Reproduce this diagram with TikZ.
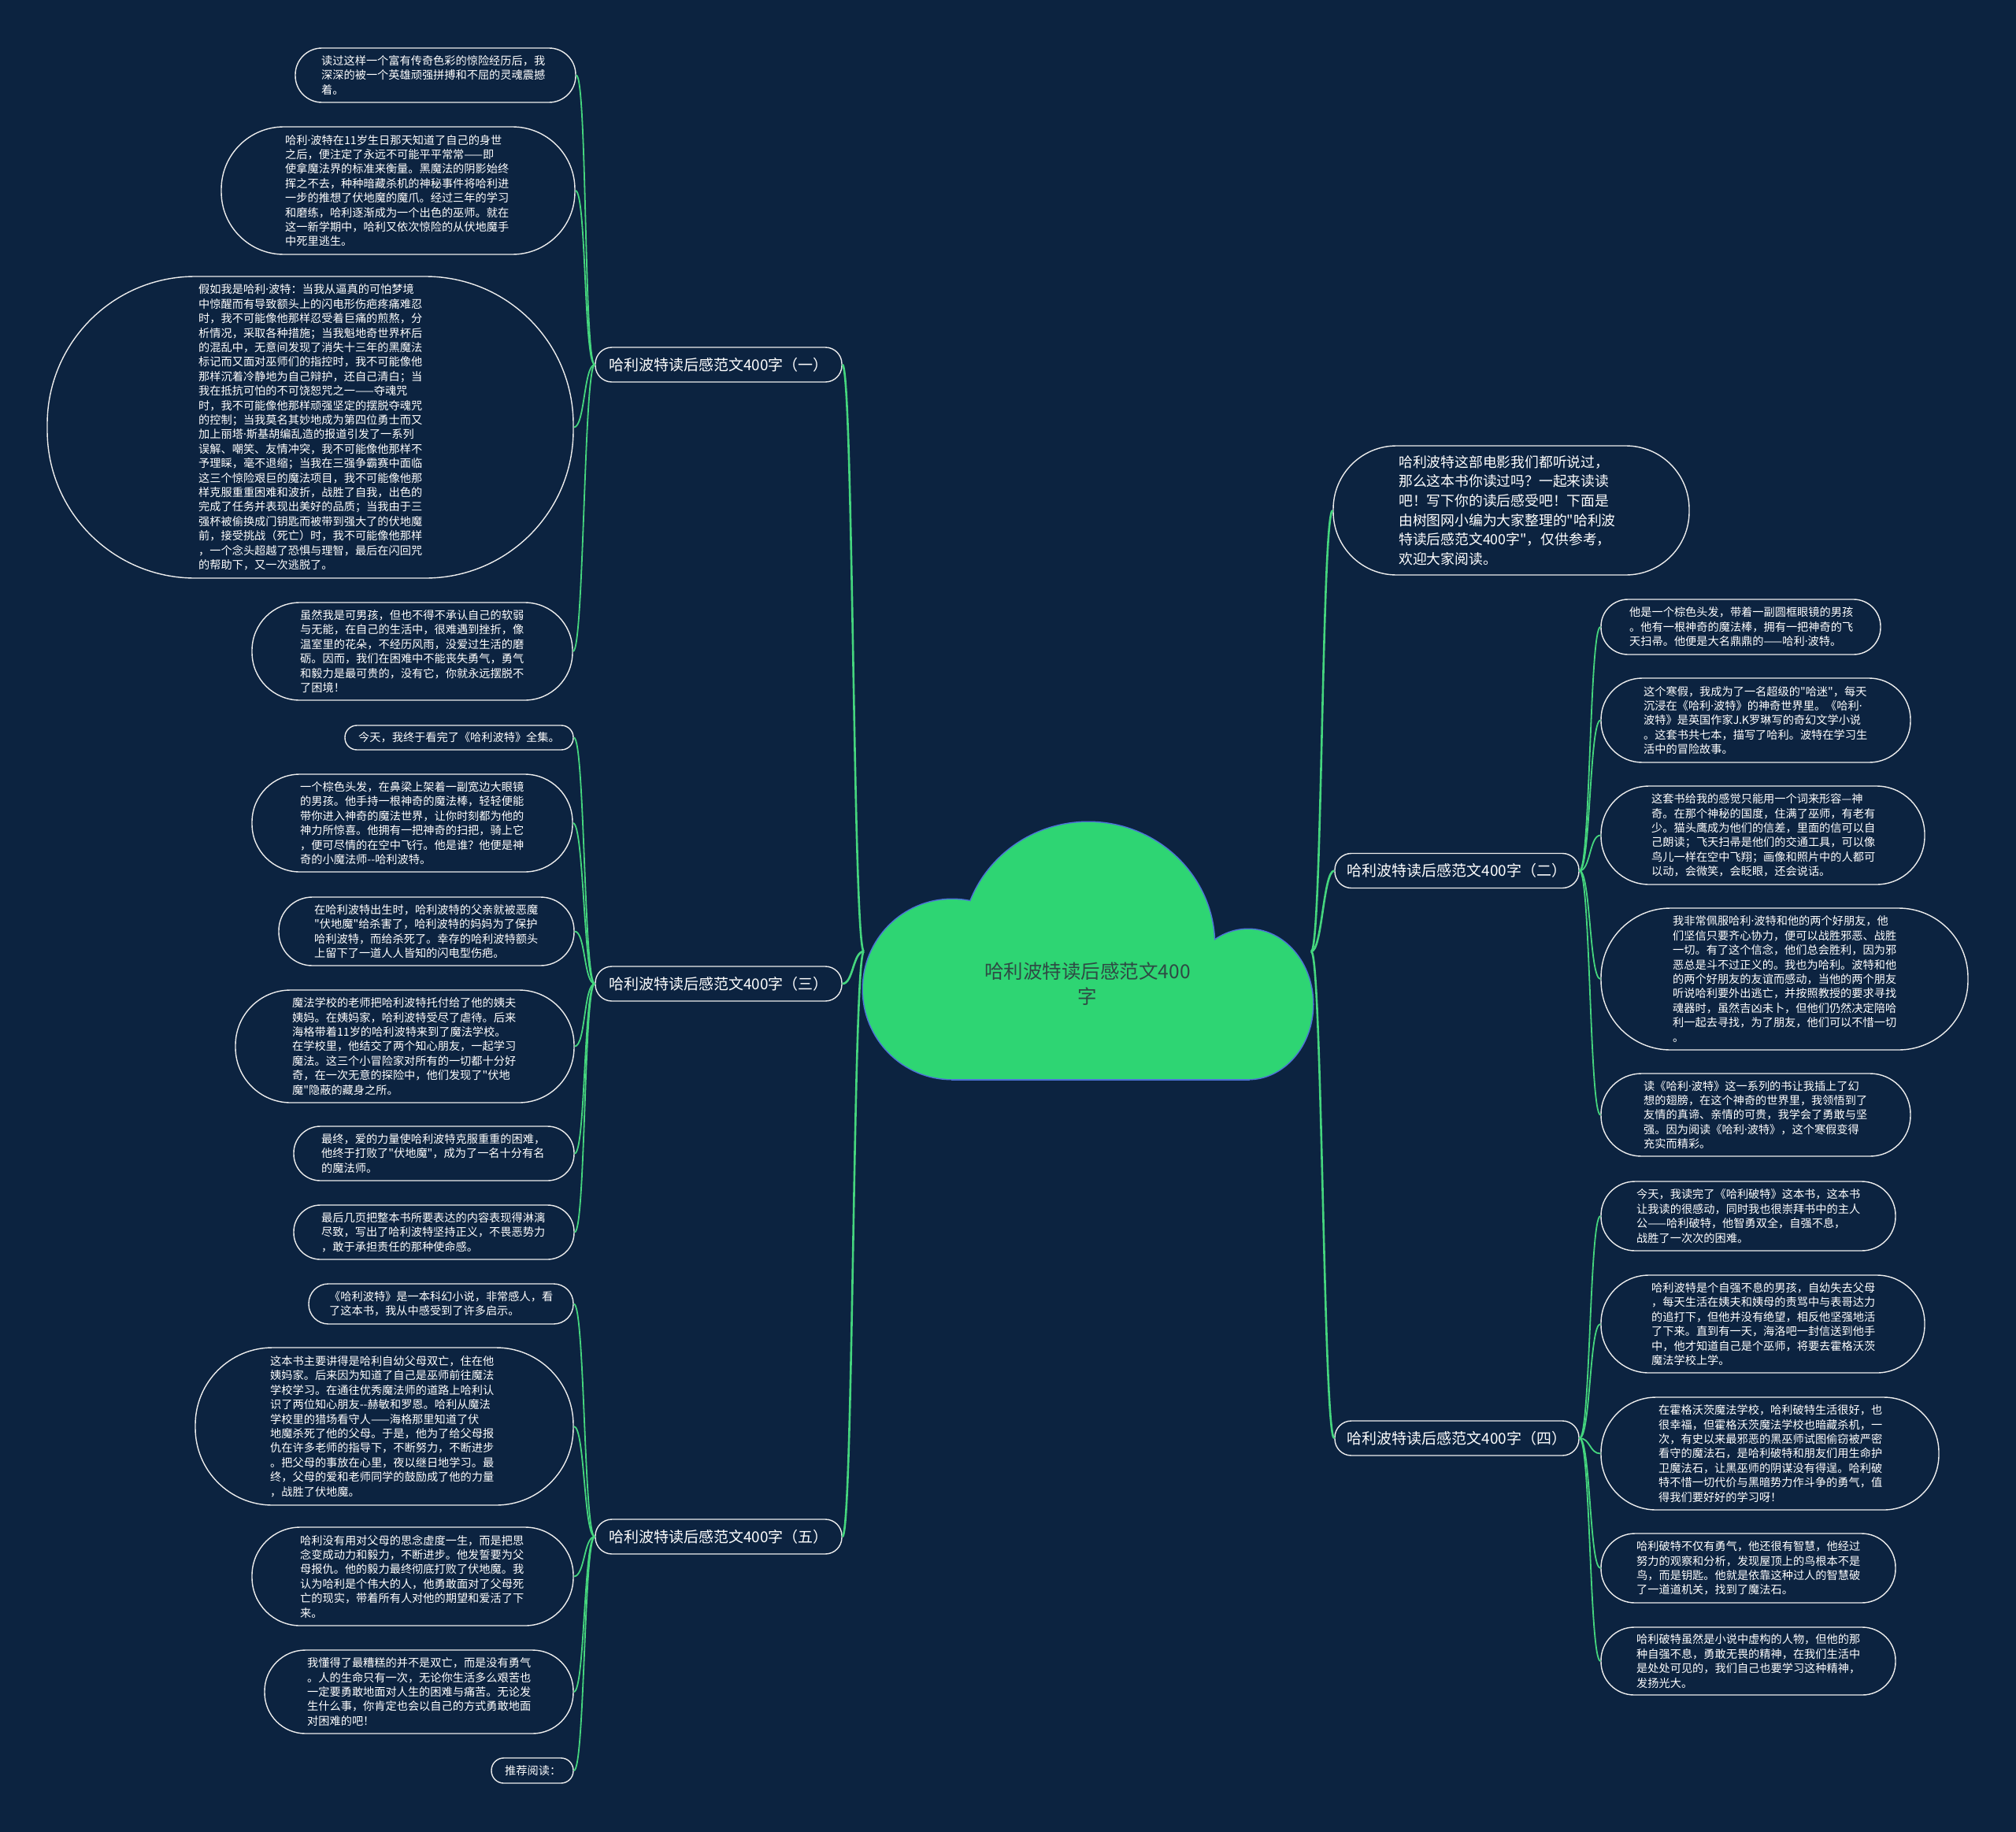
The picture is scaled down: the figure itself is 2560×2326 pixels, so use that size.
\documentclass[tikz,border=0pt]{standalone}
\usepackage{fontspec}
\newfontfamily\cjk{Noto Sans CJK SC}[Ligatures=TeXOff]
\newfontfamily\latinf{Noto Sans}[Ligatures=TeXOff]
\newcommand\md{{\latinf ·}}
\definecolor{bg}{HTML}{0C2340}
\definecolor{edge}{HTML}{45D67E}
\definecolor{cloudfill}{HTML}{2ED573}
\definecolor{cloudedge}{HTML}{4C73D6}
\definecolor{cloudtext}{HTML}{2E4A44}
\definecolor{leafedge}{HTML}{EDEDED}
\tikzset{
  leafbox/.style={draw=leafedge, line width=1.4pt, fill=bg, inner sep=0pt},
  leaftext/.style={font=\cjk\fontsize{14.2}{18.4}\selectfont, text=white, align=left, inner sep=0pt},
  introtext/.style={font=\cjk\fontsize{17.8}{24.6}\selectfont, text=white, align=left, inner sep=0pt},
  branchbox/.style={draw=leafedge, line width=1.4pt, fill=bg, rounded corners=21pt, minimum width=313pt, minimum height=44pt, font=\cjk\fontsize{19}{22}\selectfont, text=white, inner sep=0pt},
  mainline/.style={draw=edge, line width=2.6pt},
  leafline/.style={draw=edge, line width=1.8pt},
}
\newcommand\leafnode[8][leaftext]{%
  \pgfmathsetmacro\lfW{#5-#3}%
  \pgfmathsetmacro\lfH{#6-#4}%
  \pgfmathsetmacro\lfR{min(0.49*\lfH,0.49*\lfW)}%
  \pgfmathsetmacro\lfX{(#3+#5)/2}%
  \pgfmathsetmacro\lfY{(#4+#6)/2}%
  \node[leafbox, minimum width=\lfW pt, minimum height=\lfH pt, rounded corners=\lfR pt] (#2) at (\lfX,\lfY) {};
  \node[#1, anchor=west] (#2t) at (#7,\lfY) {#8};
}
\begin{document}
\begin{tikzpicture}[x=1pt,y=-1pt]
\useasboundingbox (0,0) rectangle (2560,2326);
\fill[bg] (0,0) rectangle (2560,2326);

% branch labels
\node[branchbox] (B1) at (912.5,463) {哈利波特读后感范文400字（一）};
\node[branchbox] (B3) at (912.5,1249) {哈利波特读后感范文400字（三）};
\node[branchbox] (B5) at (912.5,1951) {哈利波特读后感范文400字（五）};
\node[branchbox, minimum width=310pt] (B2) at (1850,1105.5) {哈利波特读后感范文400字（二）};
\node[branchbox, minimum width=310pt] (B4) at (1850,1826) {哈利波特读后感范文400字（四）};

% left leaves
\leafnode{L1a}{375}{61}{731}{130}{408}{读过这样一个富有传奇色彩的惊险经历后，我\\深深的被一个英雄顽强拼搏和不屈的灵魂震撼\\着。}
\leafnode{L1b}{281}{161}{730}{323}{362}{哈利\md 波特在11岁生日那天知道了自己的身世\\之后，便注定了永远不可能平平常常——即\\使拿魔法界的标准来衡量。黑魔法的阴影始终\\挥之不去，种种暗藏杀机的神秘事件将哈利进\\一步的推想了伏地魔的魔爪。经过三年的学习\\和磨练，哈利逐渐成为一个出色的巫师。就在\\这一新学期中，哈利又依次惊险的从伏地魔手\\中死里逃生。}
\leafnode{L1c}{60}{351}{728}{734}{252}{假如我是哈利\md 波特：当我从逼真的可怕梦境\\中惊醒而有导致额头上的闪电形伤疤疼痛难忍\\时，我不可能像他那样忍受着巨痛的煎熬，分\\析情况，采取各种措施；当我魁地奇世界杯后\\的混乱中，无意间发现了消失十三年的黑魔法\\标记而又面对巫师们的指控时，我不可能像他\\那样沉着冷静地为自己辩护，还自己清白；当\\我在抵抗可怕的不可饶恕咒之一——夺魂咒\\时，我不可能像他那样顽强坚定的摆脱夺魂咒\\的控制；当我莫名其妙地成为第四位勇士而又\\加上丽塔\md 斯基胡编乱造的报道引发了一系列\\误解、嘲笑、友情冲突，我不可能像他那样不\\予理睬，毫不退缩；当我在三强争霸赛中面临\\这三个惊险艰巨的魔法项目，我不可能像他那\\样克服重重困难和波折，战胜了自我，出色的\\完成了任务并表现出美好的品质；当我由于三\\强杯被偷换成门钥匙而被带到强大了的伏地魔\\前，接受挑战（死亡）时，我不可能像他那样\\，一个念头超越了恐惧与理智，最后在闪回咒\\的帮助下，又一次逃脱了。}
\leafnode{L1d}{320}{765}{727}{889}{381}{虽然我是可男孩，但也不得不承认自己的软弱\\与无能，在自己的生活中，很难遇到挫折，像\\温室里的花朵，不经历风雨，没爱过生活的磨\\砺。因而，我们在困难中不能丧失勇气，勇气\\和毅力是最可贵的，没有它，你就永远摆脱不\\了困境！}
\leafnode{L3a}{438}{921}{728}{952}{455}{今天，我终于看完了《哈利波特》全集。}
\leafnode{L3b}{320}{983}{727}{1107}{381}{一个棕色头发，在鼻梁上架着一副宽边大眼镜\\的男孩。他手持一根神奇的魔法棒，轻轻便能\\带你进入神奇的魔法世界，让你时刻都为他的\\神力所惊喜。他拥有一把神奇的扫把，骑上它\\，便可尽情的在空中飞行。他是谁？他便是神\\奇的小魔法师--哈利波特。}
\leafnode{L3c}{354}{1139}{729}{1226}{399}{在哈利波特出生时，哈利波特的父亲就被恶魔\\"伏地魔"给杀害了，哈利波特的妈妈为了保护\\哈利波特，而给杀死了。幸存的哈利波特额头\\上留下了一道人人皆知的闪电型伤疤。}
\leafnode{L3d}{299}{1257}{729}{1400}{371}{魔法学校的老师把哈利波特托付给了他的姨夫\\姨妈。在姨妈家，哈利波特受尽了虐待。后来\\海格带着11岁的哈利波特来到了魔法学校。\\在学校里，他结交了两个知心朋友，一起学习\\魔法。这三个小冒险家对所有的一切都十分好\\奇，在一次无意的探险中，他们发现了"伏地\\魔"隐蔽的藏身之所。}
\leafnode{L3e}{373}{1430}{729}{1499}{408}{最终，爱的力量使哈利波特克服重重的困难，\\他终于打败了"伏地魔"，成为了一名十分有名\\的魔法师。}
\leafnode{L3f}{373}{1530}{729}{1599}{408}{最后几页把整本书所要表达的内容表现得淋漓\\尽致，写出了哈利波特坚持正义，不畏恶势力\\，敢于承担责任的那种使命感。}
\leafnode{L5a}{392}{1630}{728}{1681}{418}{《哈利波特》是一本科幻小说，非常感人，看\\了这本书，我从中感受到了许多启示。}
\leafnode{L5b}{248}{1711}{728}{1911}{343}{这本书主要讲得是哈利自幼父母双亡，住在他\\姨妈家。后来因为知道了自己是巫师前往魔法\\学校学习。在通往优秀魔法师的道路上哈利认\\识了两位知心朋友--赫敏和罗恩。哈利从魔法\\学校里的猎场看守人——海格那里知道了伏\\地魔杀死了他的父母。于是，他为了给父母报\\仇在许多老师的指导下，不断努力，不断进步\\。把父母的事放在心里，夜以继日地学习。最\\终，父母的爱和老师同学的鼓励成了他的力量\\，战胜了伏地魔。}
\leafnode{L5c}{320}{1939}{728}{2064}{381}{哈利没有用对父母的思念虚度一生，而是把思\\念变成动力和毅力，不断进步。他发誓要为父\\母报仇。他的毅力最终彻底打败了伏地魔。我\\认为哈利是个伟大的人，他勇敢面对了父母死\\亡的现实，带着所有人对他的期望和爱活了下\\来。}
\leafnode{L5d}{336}{2095}{728}{2201}{390}{我懂得了最糟糕的并不是双亡，而是没有勇气\\。人的生命只有一次，无论你生活多么艰苦也\\一定要勇敢地面对人生的困难与痛苦。无论发\\生什么事，你肯定也会以自己的方式勇敢地面\\对困难的吧！}
\leafnode{L5e}{624}{2232}{728}{2264}{641}{推荐阅读：}

% right leaves
\leafnode[introtext]{intro}{1693}{566}{2145}{730}{1776}{哈利波特这部电影我们都听说过，\\那么这本书你读过吗？一起来读读\\吧！写下你的读后感受吧！下面是\\由树图网小编为大家整理的"哈利波\\特读后感范文400字"，仅供参考，\\欢迎大家阅读。}
\leafnode{R2a}{2033}{761}{2388}{831}{2069}{他是一个棕色头发，带着一副圆框眼镜的男孩\\。他有一根神奇的魔法棒，拥有一把神奇的飞\\天扫帚。他便是大名鼎鼎的——哈利\md 波特。}
\leafnode{R2b}{2033}{861}{2426}{968}{2087}{这个寒假，我成为了一名超级的"哈迷"，每天\\沉浸在《哈利\md 波特》的神奇世界里。《哈利\md\\波特》是英国作家J.K罗琳写的奇幻文学小说\\。这套书共七本，描写了哈利。波特在学习生\\活中的冒险故事。}
\leafnode{R2c}{2033}{998}{2444}{1123}{2097}{这套书给我的感觉只能用一个词来形容—神\\奇。在那个神秘的国度，住满了巫师，有老有\\少。猫头鹰成为他们的信差，里面的信可以自\\己朗读；飞天扫帚是他们的交通工具，可以像\\鸟儿一样在空中飞翔；画像和照片中的人都可\\以动，会微笑，会眨眼，还会说话。}
\leafnode{R2d}{2033}{1153}{2499}{1333}{2124}{我非常佩服哈利\md 波特和他的两个好朋友，他\\们坚信只要齐心协力，便可以战胜邪恶、战胜\\一切。有了这个信念，他们总会胜利，因为邪\\恶总是斗不过正义的。我也为哈利。波特和他\\的两个好朋友的友谊而感动，当他的两个朋友\\听说哈利要外出逃亡，并按照教授的要求寻找\\魂器时，虽然吉凶未卜，但他们仍然决定陪哈\\利一起去寻找，为了朋友，他们可以不惜一切\\。}
\leafnode{R2e}{2033}{1363}{2426}{1468}{2087}{读《哈利\md 波特》这一系列的书让我插上了幻\\想的翅膀，在这个神奇的世界里，我领悟到了\\友情的真谛、亲情的可贵，我学会了勇敢与坚\\强。因为阅读《哈利\md 波特》，这个寒假变得\\充实而精彩。}
\leafnode{R4a}{2033}{1500}{2407}{1588}{2078}{今天，我读完了《哈利破特》这本书，这本书\\让我读的很感动，同时我也很崇拜书中的主人\\公——哈利破特，他智勇双全，自强不息，\\战胜了一次次的困难。}
\leafnode{R4b}{2033}{1619}{2444}{1743}{2097}{哈利波特是个自强不息的男孩，自幼失去父母\\，每天生活在姨夫和姨母的责骂中与表哥达力\\的追打下，但他并没有绝望，相反他坚强地活\\了下来。直到有一天，海洛吧一封信送到他手\\中，他才知道自己是个巫师，将要去霍格沃茨\\魔法学校上学。}
\leafnode{R4c}{2033}{1774}{2462}{1917}{2106}{在霍格沃茨魔法学校，哈利破特生活很好，也\\很幸福，但霍格沃茨魔法学校也暗藏杀机，一\\次，有史以来最邪恶的黑巫师试图偷窃被严密\\看守的魔法石，是哈利破特和朋友们用生命护\\卫魔法石，让黑巫师的阴谋没有得逞。哈利破\\特不惜一切代价与黑暗势力作斗争的勇气，值\\得我们要好好的学习呀！}
\leafnode{R4d}{2033}{1947}{2407}{2035}{2078}{哈利破特不仅有勇气，他还很有智慧，他经过\\努力的观察和分析，发现屋顶上的鸟根本不是\\鸟，而是钥匙。他就是依靠这种过人的智慧破\\了一道道机关，找到了魔法石。}
\leafnode{R4e}{2033}{2066}{2407}{2152}{2078}{哈利破特虽然是小说中虚构的人物，但他的那\\种自强不息，勇敢无畏的精神，在我们生活中\\是处处可见的，我们自己也要学习这种精神，\\发扬光大。}

% connectors
\coordinate (cL) at (1097,1208);
\coordinate (cR) at (1665,1208);
\foreach \b in {B1,B3,B5}
  \draw[mainline] (cL) .. controls +(-14,0) and +(14,0) .. (\b.east);
\foreach \b in {intro,B2,B4}
  \draw[mainline] (cR) .. controls +(14,0) and +(-14,0) .. (\b.west);
\foreach \l in {L1a,L1b,L1c,L1d}
  \draw[leafline] (B1.west) .. controls +(-14,0) and +(14,0) .. (\l.east);
\foreach \l in {L3a,L3b,L3c,L3d,L3e,L3f}
  \draw[leafline] (B3.west) .. controls +(-14,0) and +(14,0) .. (\l.east);
\foreach \l in {L5a,L5b,L5c,L5d,L5e}
  \draw[leafline] (B5.west) .. controls +(-14,0) and +(14,0) .. (\l.east);
\foreach \l in {R2a,R2b,R2c,R2d,R2e}
  \draw[leafline] (B2.east) .. controls +(14,0) and +(-14,0) .. (\l.west);
\foreach \l in {R4a,R4b,R4c,R4d,R4e}
  \draw[leafline] (B4.east) .. controls +(14,0) and +(-14,0) .. (\l.west);

% cloud
\begin{scope}
  \draw[cloudedge, line width=3pt] (1209,1256) ellipse [x radius=113pt, y radius=114pt];
  \draw[cloudedge, line width=3pt] (1382,1200) ellipse [x radius=160pt, y radius=156pt];
  \draw[cloudedge, line width=3pt] (1585,1275) ellipse [x radius=82pt, y radius=95pt];
  \draw[cloudedge, line width=3pt] (1209,1230) rectangle (1585,1370);
  \fill[cloudfill] (1209,1256) ellipse [x radius=113pt, y radius=114pt];
  \fill[cloudfill] (1382,1200) ellipse [x radius=160pt, y radius=156pt];
  \fill[cloudfill] (1585,1275) ellipse [x radius=82pt, y radius=95pt];
  \fill[cloudfill] (1209,1230) rectangle (1585,1370);
\end{scope}
\node[font=\cjk\fontsize{24.5}{32}\selectfont, text=cloudtext, align=center, inner sep=0pt] (center) at (1381,1249) {哈利波特读后感范文400\\字};

\end{tikzpicture}
\end{document}
